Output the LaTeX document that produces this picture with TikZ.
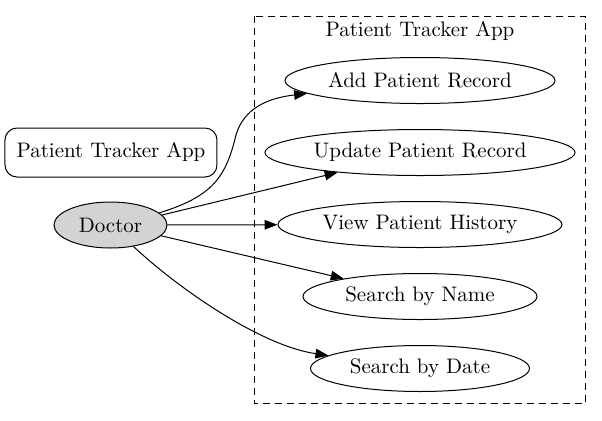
\documentclass[tikz,border=0pt]{standalone}
\usetikzlibrary{shapes.geometric,arrows.meta}
\begin{document}
\begin{tikzpicture}[x=0.5pt,y=-0.5pt,
  every node/.style={font=\fontsize{10.5}{12}\selectfont},
  usecase/.style={draw,ellipse,inner sep=0pt,line width=0.5pt,minimum height=23pt},
  actor/.style={draw,ellipse,inner sep=0pt,line width=0.5pt,fill={rgb,255:red,211;green,211;blue,211},minimum height=23pt,minimum width=56.5pt},
  labelbox/.style={draw,rounded corners=6pt,line width=0.5pt,minimum width=106pt,minimum height=24.5pt,inner sep=0pt},
  cluster/.style={draw,dash pattern=on 3.5pt off 2.5pt,line width=0.5pt},
  edge/.style={line width=0.5pt,-{Triangle[length=6.5pt,width=4.8pt]}}]
\useasboundingbox (0,0) rectangle (602,420);
\draw[cluster] (254.5,16) rectangle (585.5,403.5);
\node (title) at (420,31) {Patient Tracker App};
\node[usecase,minimum width=135pt] (add) at (420,80.5) {Add Patient Record};
\node[usecase,minimum width=155pt] (upd) at (420,152.5) {Update Patient Record};
\node[usecase,minimum width=142pt] (view) at (420,224.5) {View Patient History};
\node[usecase,minimum width=117pt] (name) at (420,296.5) {Search by Name};
\node[usecase,minimum width=109.5pt] (date) at (420,368.5) {Search by Date};
\node[labelbox] (app) at (111,152.5) {Patient Tracker App};
\node[actor] (doc) at (110.5,225) {Doctor};
\draw[edge] (doc.14) .. controls (214,196) and (226,176) .. (236,135) .. controls (244,108) and (268,98) .. (add);
\draw[edge] (doc.11) -- (upd);
\draw[edge] (doc) -- (view);
\draw[edge] (doc.-12) -- (name);
\draw[edge] (doc) .. controls (180,290) and (262,346) .. (date);
\end{tikzpicture}
\end{document}
